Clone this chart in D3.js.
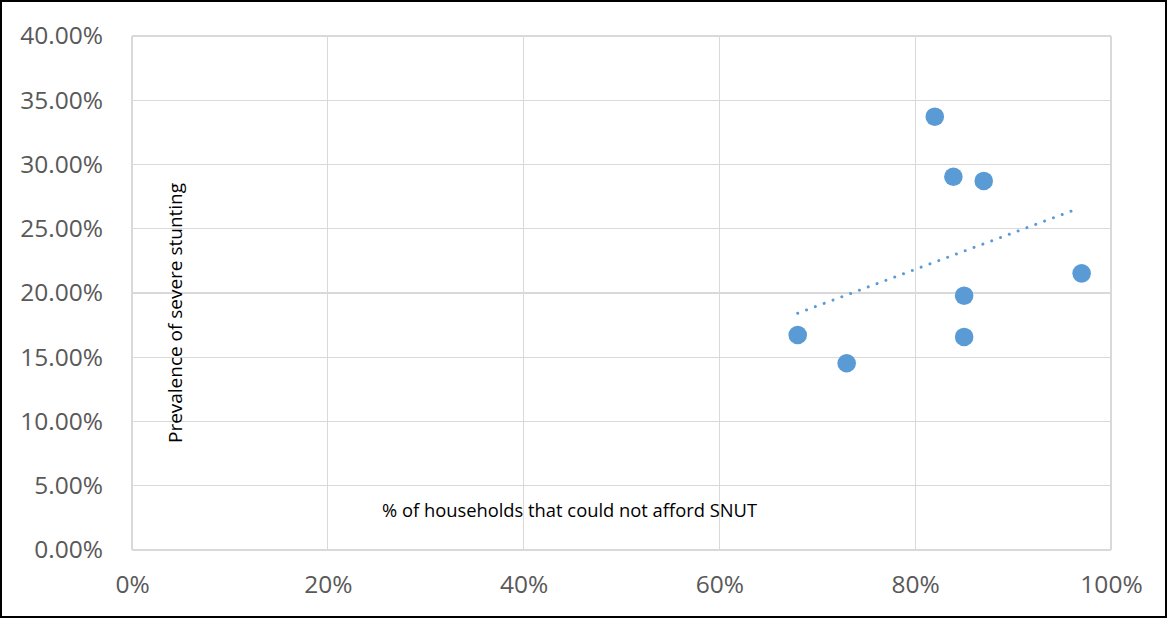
<!DOCTYPE html>
<html><head><meta charset="utf-8">
<script src="https://cdn.jsdelivr.net/npm/d3@7"></script>
<style>body{margin:0;background:#fff}svg{display:block}</style>
</head><body>
<script>
const xValues = [0.68, 0.73, 0.82, 0.839, 0.87, 0.85, 0.85, 0.97];
const yValues = [0.1673, 0.1453, 0.3372, 0.2905, 0.2872, 0.1979, 0.1658, 0.2153];
const xTicks = [0, 0.2, 0.4, 0.6, 0.8, 1.0];
const yTicks = [0, 0.05, 0.10, 0.15, 0.20, 0.25, 0.30, 0.35, 0.40];
const xTitle = "% of households that could not afford SNUT";
const yTitle = "Prevalence of severe stunting";

const W = 1168, H = 619;
const svg = d3.select("body").append("svg").attr("width", W).attr("height", H);
svg.append("rect").attr("x",1).attr("y",1).attr("width",W-3).attr("height",H-3)
  .attr("fill","#fff").attr("stroke","#000").attr("stroke-width",2);

const L = 132, R = 1111, T = 36, B = 550;
const x = d3.scaleLinear().domain([0,1]).range([L,R]);
const y = d3.scaleLinear().domain([0,0.4]).range([B,T]);

const grid = svg.append("g").attr("stroke","#d9d9d9").attr("stroke-width",1.3).attr("shape-rendering","crispEdges");
yTicks.forEach(t => grid.append("line").attr("x1",L).attr("x2",R).attr("y1",y(t)).attr("y2",y(t)));
xTicks.forEach(t => grid.append("line").attr("x1",x(t)).attr("x2",x(t)).attr("y1",T).attr("y2",B));

const font = "'Open Sans', 'Liberation Sans', sans-serif";
const yAxis = d3.axisLeft(y).tickValues(yTicks).tickFormat(d3.format(".2%")).tickSize(0).tickPadding(29);
const gy = svg.append("g").attr("transform",`translate(${L},0)`).call(yAxis);
gy.select(".domain").remove();
gy.selectAll("text").attr("fill","#595959").style("font-family",font).style("font-size","24.5px");

const xAxis = d3.axisBottom(x).tickValues(xTicks).tickFormat(d3.format(".0%")).tickSize(0).tickPadding(26);
const gx = svg.append("g").attr("transform",`translate(0,${B})`).call(xAxis);
gx.select(".domain").remove();
gx.selectAll("text").attr("fill","#595959").style("font-family",font).style("font-size","24.5px");

// trendline (least squares)
const mx = d3.mean(xValues), my = d3.mean(yValues);
const slope = d3.sum(xValues.map((v,i)=>(v-mx)*(yValues[i]-my))) / d3.sum(xValues.map(v=>(v-mx)*(v-mx)));
const icpt = my - slope*mx;
const x0 = d3.min(xValues), x1 = d3.max(xValues) - 0.008;
svg.append("line").attr("x1",x(x0)).attr("y1",y(icpt+slope*x0)).attr("x2",x(x1)).attr("y2",y(icpt+slope*x1))
  .attr("stroke","#5b9bd5").attr("stroke-width",3).attr("stroke-linecap","round").attr("stroke-dasharray","0.01 9.4");

svg.append("g").selectAll("circle").data(xValues).join("circle")
  .attr("cx",(d)=>x(d)).attr("cy",(d,i)=>y(yValues[i])).attr("r",9.3).attr("fill","#5b9bd5");

svg.append("text").attr("x",569.5).attr("y",517).attr("text-anchor","middle")
  .attr("textLength",375).attr("lengthAdjust","spacingAndGlyphs")
  .style("font-family",font).style("font-size","17.5px").attr("fill","#000").text(xTitle);
svg.append("text").attr("transform","translate(182,313) rotate(-90)").attr("text-anchor","middle")
  .attr("textLength",260).attr("lengthAdjust","spacingAndGlyphs")
  .style("font-family",font).style("font-size","17.5px").attr("fill","#000").text(yTitle);
</script>
</body></html>
